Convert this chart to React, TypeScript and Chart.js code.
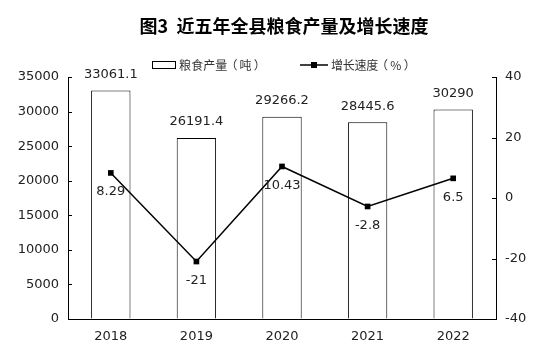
import React, { useEffect, useRef } from "react";
import { Chart, registerables } from "chart.js";

Chart.register(...registerables);

const categories = ["2018", "2019", "2020", "2021", "2022"];
const production = [33061.1, 26191.4, 29266.2, 28445.6, 30290];
const growth = [8.29, -21, 10.43, -2.8, 6.5];
const productionLabels = ["33061.1", "26191.4", "29266.2", "28445.6", "30290"];
const growthLabels = ["8.29", "-21", "10.43", "-2.8", "6.5"];
const leftTicks = [0, 5000, 10000, 15000, 20000, 25000, 30000, 35000];
const rightTicks = [-40, -20, 0, 20, 40];

const TITLE = "图3  近五年全县粮食产量及增长速度";
const LEGEND_BAR = "粮食产量（吨）";
const LEGEND_LINE = "增长速度（%）";

const NUM_FONT = "13px 'DejaVu Sans'";
const CJK_FONT = "'Noto Sans CJK SC'";

function drawSpaced(ctx: any, text: string, x: number, y: number, cell: number) {
  const chars = Array.from(text);
  ctx.textAlign = "center";
  chars.forEach((c, i) => {
    let dx = 0;
    if (c === "（") dx = -2;
    if (c === "）") dx = 2;
    ctx.fillText(c, x + cell * i + cell / 2 + dx, y);
  });
}

const extras = {
  id: "extras",
  afterDraw(chart: any) {
    const ctx = chart.ctx;
    const area = chart.chartArea;
    ctx.save();
    // title
    ctx.fillStyle = "#000";
    ctx.font = `bold 18px ${CJK_FONT}`;
    ctx.textAlign = "center";
    ctx.textBaseline = "middle";
    ctx.fillText(TITLE, 284, 26);

    // legend
    ctx.strokeStyle = "#000";
    ctx.lineWidth = 1;
    ctx.strokeRect(152.5, 61.5, 23, 7);
    ctx.font = `12px ${CJK_FONT}`;
    ctx.fillStyle = "#333";
    drawSpaced(ctx, LEGEND_BAR, 179, 65, 12.1);
    ctx.lineWidth = 1.5;
    ctx.beginPath();
    ctx.moveTo(300, 65);
    ctx.lineTo(328, 65);
    ctx.stroke();
    ctx.fillStyle = "#000";
    ctx.fillRect(311, 62, 6, 6);
    ctx.fillStyle = "#333";
    drawSpaced(ctx, LEGEND_LINE, 331, 65, 11.8);

    // inward ticks
    const yL = chart.scales.y;
    const yR = chart.scales.y1;
    ctx.strokeStyle = "#000";
    ctx.lineWidth = 1;
    ctx.beginPath();
    leftTicks.forEach((v) => {
      const py = Math.round(yL.getPixelForValue(v)) + 0.5;
      ctx.moveTo(area.left, py);
      ctx.lineTo(area.left + 4, py);
    });
    rightTicks.forEach((v) => {
      const py = Math.round(yR.getPixelForValue(v)) + 0.5;
      ctx.moveTo(area.right - 4, py);
      ctx.lineTo(area.right, py);
    });
    ctx.stroke();

    // data labels
    ctx.font = NUM_FONT;
    ctx.fillStyle = "#222";
    ctx.textAlign = "center";
    ctx.textBaseline = "middle";
    const barMeta = chart.getDatasetMeta(0);
    barMeta.data.forEach((el: any, i: number) => {
      ctx.fillText(productionLabels[i], el.x, el.y - 16);
    });
    const lineMeta = chart.getDatasetMeta(1);
    lineMeta.data.forEach((el: any, i: number) => {
      ctx.fillText(growthLabels[i], el.x, el.y + 19);
    });
    ctx.restore();
  },
};

export default function App() {
  const ref = useRef<HTMLCanvasElement>(null);
  useEffect(() => {
    document.body.style.margin = "0";
    const chart = new Chart(ref.current!, {
      type: "bar",
      data: {
        labels: categories,
        datasets: [
          {
            type: "bar",
            label: LEGEND_BAR,
            data: production,
            backgroundColor: "#fff",
            borderColor: "#000",
            borderWidth: 1,
            barPercentage: 0.46,
            categoryPercentage: 1,
            yAxisID: "y",
            order: 2,
          },
          {
            type: "line",
            label: LEGEND_LINE,
            data: growth,
            borderColor: "#000",
            backgroundColor: "#000",
            borderWidth: 1.5,
            pointStyle: "rect",
            pointRadius: 4,
            pointBorderWidth: 0,
            yAxisID: "y1",
            order: 1,
          },
        ],
      },
      options: {
        responsive: false,
        animation: false,
        events: [],
        layout: { padding: { top: 77, left: 0, right: 0, bottom: 0 } },
        plugins: { legend: { display: false }, tooltip: { enabled: false }, title: { display: false } },
        scales: {
          x: {
            grid: { display: false, drawTicks: false },
            border: { display: true, color: "#000", width: 1 },
            ticks: { color: "#222", font: { family: "DejaVu Sans", size: 13 }, padding: 10 },
            afterFit: (s: any) => { s.height = 37; },
          },
          y: {
            position: "left",
            min: 0,
            max: 35000,
            grid: { display: true, drawOnChartArea: false, drawTicks: false },
            border: { display: true, color: "#000", width: 1 },
            ticks: {
              stepSize: 5000,
              color: "#222",
              font: { family: "DejaVu Sans", size: 13 },
              padding: 9,
              callback: (v: any) => String(v),
            },
            afterFit: (s: any) => { s.width = 68; },
          },
          y1: {
            position: "right",
            min: -40,
            max: 40,
            grid: { display: true, drawOnChartArea: false, drawTicks: false },
            border: { display: true, color: "#000", width: 1 },
            ticks: {
              stepSize: 20,
              color: "#222",
              font: { family: "DejaVu Sans", size: 13 },
              padding: 9,
              callback: (v: any) => String(v),
            },
            afterFit: (s: any) => { s.width = 52; },
          },
        },
      },
      plugins: [extras],
    });
    return () => chart.destroy();
  }, []);
  return (
    <div style={{ width: 548, height: 356, background: "#fff" }}>
      <canvas ref={ref} width={548} height={356} />
    </div>
  );
}
